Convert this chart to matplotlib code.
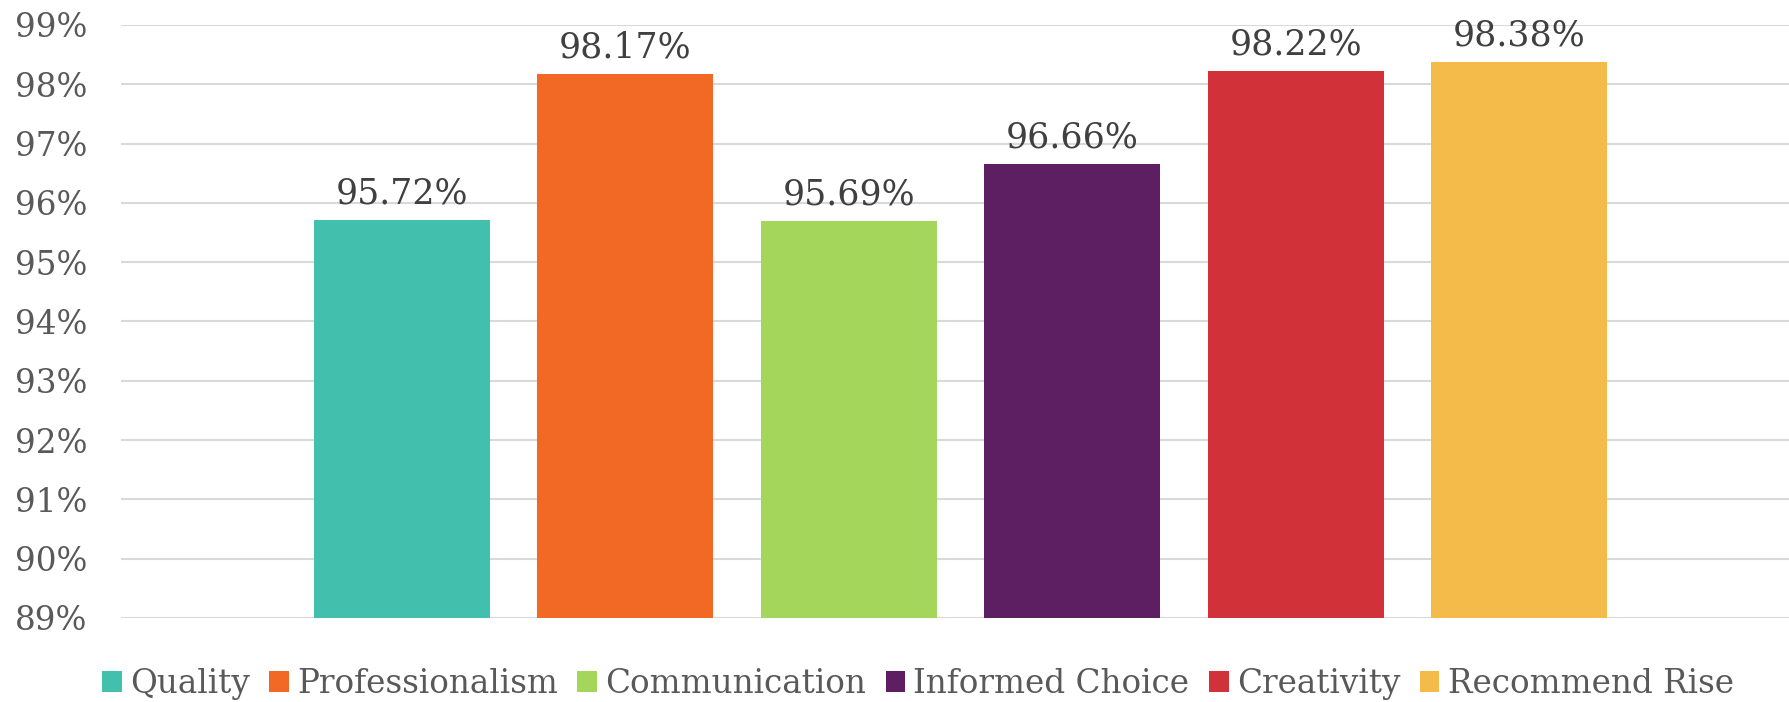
import matplotlib
matplotlib.use("Agg")
import matplotlib.pyplot as plt
from matplotlib.patches import Patch

categories = ["Quality", "Professionalism", "Communication",
              "Informed Choice", "Creativity", "Recommend Rise"]
scores = [95.72, 98.17, 95.69, 96.66, 98.22, 98.38]
colors = ["#43BFAE", "#F26925", "#A5D65C", "#5E1F62", "#D13239", "#F4BA4A"]
y_ticks = list(range(89, 100))

plt.rcParams["font.family"] = ["DejaVu Serif"]

fig = plt.figure(figsize=(17.89, 7.02), dpi=100)
ax = fig.add_axes([121 / 1789, 84 / 702, 1 - 121 / 1789, 593 / 702])

x = list(range(len(categories)))
bars = ax.bar(x, scores, width=0.787, color=colors, zorder=2)

for xi, v in zip(x, scores):
    ax.text(xi, v + 0.16, "%.2f%%" % v, ha="center", va="bottom",
            fontsize=25, color="#404040", clip_on=False)

ax.set_ylim(89, 99)
ax.set_xlim(-1.256, 6.208)
ax.set_yticks(y_ticks)
ax.set_yticklabels(["%d%%" % t for t in y_ticks], fontsize=23.5, color="#595959")
ax.set_xticks([])
ax.tick_params(axis="y", length=0, pad=24)
ax.grid(axis="y", color="#D9D9D9", linewidth=1.5, zorder=0)
ax.set_axisbelow(True)
for s in ax.spines.values():
    s.set_visible(False)

handles = [Patch(facecolor=c, edgecolor="none") for c in colors]
fig.legend(handles, categories, loc="center", bbox_to_anchor=(0.513, 0.026),
           ncol=6, frameon=False, fontsize=23.5, labelcolor="#595959",
           handlelength=0.6, handleheight=0.6, handletextpad=0.25,
           columnspacing=0.6)

fig.savefig("out.png", dpi=100)
